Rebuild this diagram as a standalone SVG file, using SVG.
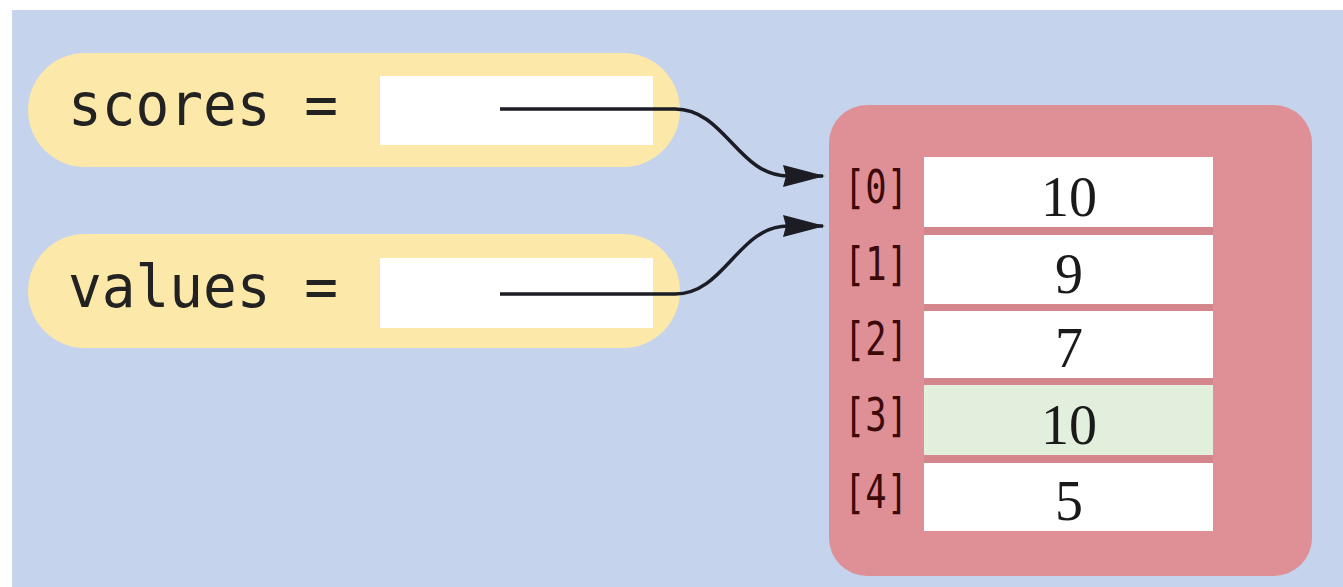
<svg xmlns="http://www.w3.org/2000/svg" width="1343" height="587" viewBox="0 0 1343 587">
  <style>
    .pill { fill: #FCE8A8; }
    .slot { fill: #FFFFFF; }
    .var { font-family: "DejaVu Sans Mono", "Liberation Mono", monospace; font-size: 58px; fill: #222222; }
    .idx { font-family: "DejaVu Sans Mono", "Liberation Mono", monospace; font-size: 46px; fill: #3D0A0A; }
    .val { font-family: "Liberation Serif", "DejaVu Serif", serif; font-size: 56px; fill: #1A1A1A; text-anchor: middle; }
    .cell { fill: #FFFFFF; }
    .sep { fill: #D3868C; }
    .conn { fill: none; stroke: #1C1C24; stroke-width: 3.5; }
  </style>
  <defs>
    <marker id="arrow" markerUnits="userSpaceOnUse" viewBox="0 0 42 24" markerWidth="42" markerHeight="24" refX="40" refY="12" orient="auto">
      <path d="M0,1 L42,12 L0,23 L3,12 Z" fill="#1C1C24"/>
    </marker>
  </defs>

  <rect x="0" y="0" width="1343" height="587" fill="#FFFFFF"/>
  <rect x="12" y="10" width="1331" height="577" fill="#C5D3EC"/>

  <g id="scores">
    <rect class="pill" x="28" y="53" width="652" height="114" rx="57"/>
    <rect class="slot" x="380" y="76" width="273" height="69"/>
    <text class="var" x="68" y="125" textLength="270" lengthAdjust="spacingAndGlyphs">scores =</text>
  </g>

  <g id="values">
    <rect class="pill" x="28" y="234" width="652" height="114" rx="57"/>
    <rect class="slot" x="380" y="258" width="273" height="70"/>
    <text class="var" x="68" y="307" textLength="270" lengthAdjust="spacingAndGlyphs">values =</text>
  </g>

  <g id="array">
    <rect x="829" y="105" width="483" height="471" rx="38" fill="#DE9096"/>
    <rect class="sep" x="924" y="227" width="289" height="8"/>
    <rect class="sep" x="924" y="304" width="289" height="7"/>
    <rect class="sep" x="924" y="378" width="289" height="7"/>
    <rect class="sep" x="924" y="455" width="289" height="8"/>

    <rect class="cell" x="924" y="157" width="289" height="70"/>
    <rect class="cell" x="924" y="235" width="289" height="69"/>
    <rect class="cell" x="924" y="311" width="289" height="67"/>
    <rect x="924" y="385" width="289" height="70" fill="#E2EFDC"/>
    <rect class="cell" x="924" y="463" width="289" height="68"/>

    <text class="idx" x="844" y="203" textLength="64" lengthAdjust="spacingAndGlyphs">[0]</text>
    <text class="idx" x="844" y="280" textLength="64" lengthAdjust="spacingAndGlyphs">[1]</text>
    <text class="idx" x="844" y="355" textLength="64" lengthAdjust="spacingAndGlyphs">[2]</text>
    <text class="idx" x="844" y="431" textLength="64" lengthAdjust="spacingAndGlyphs">[3]</text>
    <text class="idx" x="844" y="508" textLength="64" lengthAdjust="spacingAndGlyphs">[4]</text>

    <text class="val" x="1069" y="216">10</text>
    <text class="val" x="1069" y="293">9</text>
    <text class="val" x="1069" y="367">7</text>
    <text class="val" x="1069" y="444">10</text>
    <text class="val" x="1069" y="520">5</text>
  </g>

  <g id="connectors">
    <path class="conn" d="M500,109 L675,109 C725,109 738,176 788,176 L823,176" marker-end="url(#arrow)"/>
    <path class="conn" d="M500,294 L675,294 C725,294 738,226 788,226 L823,226" marker-end="url(#arrow)"/>
  </g>
</svg>
